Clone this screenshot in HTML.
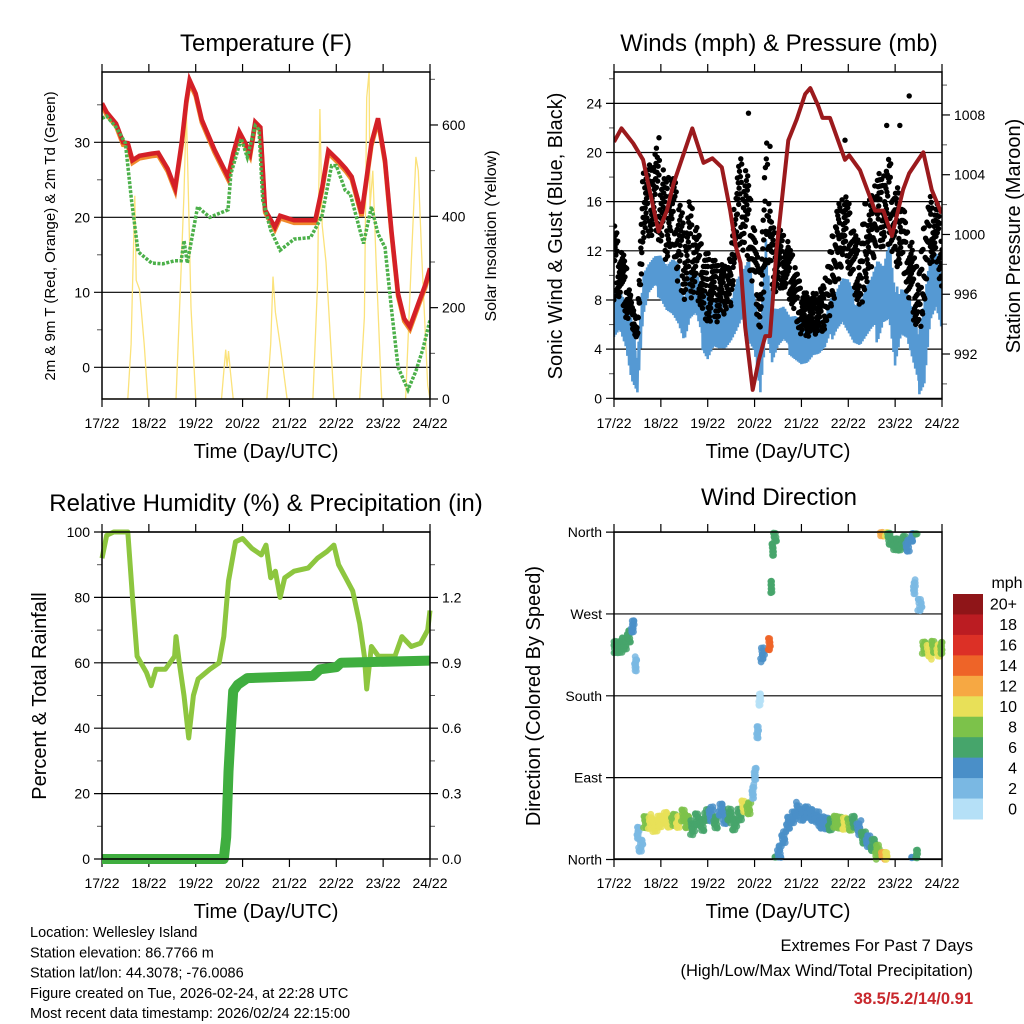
<!DOCTYPE html>
<html><head><meta charset="utf-8"><style>
html,body{margin:0;padding:0;background:#fff;}
svg{display:block;font-family:"Liberation Sans",Arial,sans-serif;}
</style></head><body>
<svg id="c" width="1024" height="1024" viewBox="0 0 1024 1024" xmlns="http://www.w3.org/2000/svg">
<g id="g"></g>
</svg>
<script>
// ---------- DATA ----------
const dayLabels=["17/22","18/22","19/22","20/22","21/22","22/22","23/22","24/22"];
// Temperature (F)
const tTime=[0,0.1,0.3,0.45,0.55,0.65,0.8,1.06,1.2,1.4,1.56,1.7,1.8,1.87,2.0,2.13,2.4,2.69,2.8,2.93,3.05,3.16,3.27,3.38,3.48,3.69,3.8,4.1,4.55,4.7,4.83,5.04,5.2,5.33,5.54,5.75,5.89,6.04,6.18,6.32,6.45,6.57,6.75,6.9,7.0];
const tVals=[35.2,34,32.5,30,29.9,27.6,28.2,28.5,28.6,26.5,23.9,30,35.5,38.3,36.5,33,29,25.4,28.5,31.4,30,28.5,32.7,32,21,18.7,20.2,19.6,19.6,24,28.9,27.6,26.5,25.4,20.5,29.9,33.2,27.6,18,9.8,6.5,5.4,8.5,11,13.2];
const tdTime=[0,0.1,0.3,0.5,0.63,0.77,1.06,1.3,1.55,1.69,1.75,1.82,2.04,2.3,2.69,2.75,2.97,3.1,3.27,3.35,3.43,3.6,3.8,4.1,4.45,4.69,4.9,5.0,5.19,5.3,5.58,5.75,5.89,6.04,6.18,6.32,6.53,6.7,6.85,7.0];
const tdVals=[33.2,33.5,32,29.9,22.3,15.4,13.9,13.8,14.2,14.2,16.9,13.9,21.4,20,21,25.8,30.5,28,32.2,31.7,22.3,18.3,15.6,17.1,17.3,20.1,26.9,26.9,23.6,23.1,16.5,21.4,17.8,16,7.6,0,-3,-0.5,2.5,6.3];
// Solar insolation (W/m2)
const solTime=[0,0.55,0.62,0.66,0.7,0.73,0.8,0.9,0.98,1.58,1.68,1.75,1.8,1.85,1.9,2.0,2.55,2.6,2.64,2.67,2.7,2.74,2.8,3.52,3.6,3.65,3.7,3.8,3.95,4.5,4.6,4.65,4.7,4.78,4.95,5.5,5.6,5.65,5.7,5.72,5.78,5.85,5.97,6.48,6.6,6.7,6.75,6.82,6.95,7.0];
const solVals=[0,0,120,280,445,260,240,120,0,0,260,450,635,420,200,0,0,60,108,70,105,60,0,0,120,268,190,120,0,0,250,635,380,300,0,0,180,660,716,420,500,300,0,0,300,530,500,320,30,0];
// Winds (mph), 3-hourly bands
const wStep=0.125;
const sustLo=[5,5.5,4,1,0,6,8,8.5,8,7,6.5,5.5,4,5.5,6,4,3,4,3.6,3.5,4,4.5,5.5,4.5,3.6,0,4.5,2,3.5,4,3.5,3,2.5,2.5,3,3,3.5,4.5,5.5,6,5,4,3.6,4,4.5,4.5,6,6,2,4.5,4,2,0.2,1,6,7,5];
const sustHi=[9,9,8,6.6,4,11,11.5,12,12,11,11.5,11,9,11.5,11,9.8,8.6,8,8.6,8,8.6,10.6,11,12,8.6,6,13.5,8.6,8,8,7,7,6.5,6.5,7,7,7,8.6,9,10,9.8,8.6,8.6,10,10.6,12,11,13,8.6,10,9.8,8,5.7,8.6,12,12,10];
const gustLo=[8,8.3,6.6,6,4.5,12.5,13,13.5,12.5,11,12.5,9,8,8,8.5,7,6,6.5,6,7,7.5,12.5,12,11,8,5,11,8.6,8.6,9,8,6.5,4.7,5,5,5.4,5.4,7,8.6,11,10.5,8.6,7,9,10.5,12.5,12,12.5,10,11,8.6,6.5,5,7,11,11,8.6];
const gustHi=[14.8,12.5,11.5,8,6,19,19,21,19.5,18,18.5,17,14.5,16.5,15,12.5,12,11.5,11,11,12,19,20,18,14,10,21.7,14,14,13.5,12.5,11,9,8.6,8.6,8.8,9.6,12.5,15.5,16.5,16.5,14,12.5,16.5,16.5,18.5,18,20,17,17.5,14,12.5,10,14.5,16.5,16,15.5];
const gustOutT=[0.96,2.87,3.33,4.93,5.82,6.1,6.3];
const gustOutV=[21.2,23.2,20.5,21,22.2,22.2,24.6];
// Pressure (mb)
const pTime=[0,0.16,0.41,0.62,0.77,0.95,1.13,1.27,1.67,1.91,2.1,2.3,2.48,2.6,2.7,2.8,2.96,3.09,3.23,3.33,3.47,3.72,3.9,4.08,4.19,4.36,4.45,4.61,4.93,5.02,5.25,5.57,5.75,5.93,6.17,6.3,6.45,6.6,6.78,6.99];
const pVals=[1006.2,1007.1,1006.1,1005,1002.8,1000.2,1001.6,1003.4,1007.1,1004.8,1005.1,1004.5,1001.6,999.2,998.1,993.8,989.6,991.6,993.2,993.2,999,1006.3,1007.7,1009.4,1009.8,1008.6,1007.8,1007.8,1005,1005.3,1004.3,1001.6,1001.6,999.9,1003,1004.1,1004.8,1005.5,1003,1001.4];
// Relative humidity (%)
const rhTime=[0,0.1,0.25,0.55,0.65,0.75,0.95,1.05,1.15,1.35,1.55,1.58,1.65,1.75,1.85,1.95,2.05,2.3,2.5,2.6,2.7,2.85,3.0,3.2,3.4,3.5,3.6,3.7,3.8,3.9,4.1,4.4,4.6,4.8,4.95,5.05,5.2,5.35,5.5,5.6,5.65,5.75,5.9,6.1,6.25,6.4,6.6,6.8,6.95,7.0];
const rhVals=[92,99,100,100,80,62,57,53,58,58,62,68,60,50,37,50,55,58,60,68,85,97,98,95,93,96,86,88,80,86,88,89,92,94,96,90,86,82,72,62,52,65,62,62,62,68,65,66,70,76];
// Total precipitation (in)
const prTime=[0,2.6,2.65,2.7,2.75,2.8,2.9,3.1,4.5,4.65,5.0,5.1,7.0];
const prVals=[0,0,0.1,0.4,0.6,0.77,0.8,0.83,0.84,0.87,0.88,0.9,0.91];
// Wind direction (deg) & speed (mph)
const dirTime=[0,0.1,0.2,0.3,0.38,0.45,0.5,0.55,0.65,0.75,0.85,0.95,1.05,1.15,1.25,1.35,1.45,1.55,1.65,1.75,1.85,1.95,2.05,2.15,2.25,2.35,2.45,2.55,2.65,2.75,2.85,2.95,3.0,3.05,3.1,3.15,3.3,3.35,3.38,3.42,3.5,3.6,3.7,3.8,3.9,4.0,4.1,4.2,4.3,4.4,4.5,4.6,4.7,4.8,4.9,5.0,5.1,5.2,5.3,5.4,5.5,5.6,5.7,5.8,5.85,5.95,6.05,6.15,6.25,6.35,6.4,6.45,6.5,6.6,6.7,6.8,6.9,6.98];
const dirVals=[232,235,238,245,255,215,30,15,40,42,38,42,45,40,45,42,48,40,35,45,38,48,50,42,55,45,48,40,50,58,55,75,95,140,175,225,238,300,340,355,10,25,40,45,55,50,52,48,45,42,40,38,40,42,40,38,40,35,25,20,15,8,3,2,352,345,348,350,345,355,300,5,280,232,228,235,230,232];
const dirSpd=[7,7,7,6,4,3,2,3,9,10,11,10,10,10,9,10,9,8,7,7,6,6,5,6,4,5,6,6,7,10,8,3,3,2,1,4,14,6,6,7,4,4,5,4,4,4,4,4,5,4,5,7,8,9,10,8,7,5,6,5,7,8,12,10,7,6,7,6,5,4,2,6,2,8,10,9,11,8];
const cbLabels=["20+","18","16","14","12","10","8","6","4","2","0"];
const cbColors=["#8f1518","#bb1c22","#dc3026","#ee6428","#f6a843","#e8e058","#7cc24a","#46a56b","#4a8fc8","#7ab8e3","#b5e0f7"];

// ---------- HELPERS ----------
const NS="http://www.w3.org/2000/svg";
const root=document.getElementById('g');
function mk(tag,attrs,parent){const e=document.createElementNS(NS,tag);for(const k in attrs)e.setAttribute(k,attrs[k]);(parent||root).appendChild(e);return e;}
function txt(s,x,y,size,anchor,parent,extra){const e=mk('text',Object.assign({x:x,y:y,'font-size':size,'text-anchor':anchor||'middle',fill:'#000'},extra||{}),parent);e.textContent=s;return e;}
function interp(ts,vs,t){if(t<=ts[0])return vs[0];for(let i=1;i<ts.length;i++){if(t<=ts[i]){const f=(t-ts[i-1])/(ts[i]-ts[i-1]);return vs[i-1]+f*(vs[i]-vs[i-1]);}}return vs[vs.length-1];}
function fr(x){return x-Math.floor(x);}

function panel(name,B){
  const g=mk('g',{});
  
  
  return g;
}
function xAxis(g,B,labelY,titleY){
  const xs=d=>B.x0+d*(B.x1-B.x0)/7;
  dayLabels.forEach((l,i)=>{
    const x=xs(i);
    mk('line',{x1:x,x2:x,y1:B.y1,y2:B.y1+8,stroke:'#000','stroke-width':1.2},g);
    mk('line',{x1:x,x2:x,y1:B.y0-8,y2:B.y0,stroke:'#000','stroke-width':1.2},g);
    const t=txt(l,x,labelY,14,'middle',g);
    
    
  });
  const tt=txt("Time (Day/UTC)",(B.x0+B.x1)/2,titleY,20,'middle',g);
  
  
  return xs;
}
function yTicks(g,B,vals,yf,labels,side,grid,minor){
  vals.forEach((v,i)=>{
    const y=yf(v);
    if(side==='left'){
      if(grid) mk('line',{x1:B.x0-8,x2:B.x1,y1:y,y2:y,stroke:'#000','stroke-width':1.2},g);
      else mk('line',{x1:B.x0-8,x2:B.x0,y1:y,y2:y,stroke:'#000','stroke-width':1.2},g);
      const t=txt(labels[i],B.x0-12,y+5,14,'end',g);
      
      
    } else {
      mk('line',{x1:B.x1,x2:B.x1+8,y1:y,y2:y,stroke:'#000','stroke-width':1.2},g);
      const t=txt(labels[i],B.x1+12,y+5,14,'start',g);
      
      
    }
  });
  (minor||[]).forEach(v=>{const y=yf(v);
    if(y<B.y0-0.5||y>B.y1+0.5)return;
    if(side==='left')mk('line',{x1:B.x0-5,x2:B.x0,y1:y,y2:y,stroke:'#555','stroke-width':1},g);
    else mk('line',{x1:B.x1,x2:B.x1+5,y1:y,y2:y,stroke:'#555','stroke-width':1},g);});
}
function frame(g,B){mk('rect',{x:B.x0,y:B.y0,width:B.x1-B.x0,height:B.y1-B.y0,fill:'none',stroke:'#000','stroke-width':1.5},g);}
function clip(id,B){const d=mk('clipPath',{id:id});mk('rect',{x:B.x0,y:B.y0,width:B.x1-B.x0,height:B.y1-B.y0},d);return 'url(#'+id+')';}
function poly(g,ts,vs,xs,yf,attrs,name){
  let d='';ts.forEach((t,i)=>{d+=(i?'L':'M')+xs(t).toFixed(1)+','+yf(vs[i]).toFixed(1);});
  const p=mk('path',Object.assign({d:d,fill:'none'},attrs),g);
  
  
  return p;
}
function rotTitle(g,s,x,y,size,name){
  const t=txt(s,x,y,size,'middle',g,{transform:'rotate(-90 '+x+' '+y+')'});
  
  
}
function title(g,s,x,y){const t=txt(s,x,y,24,'middle',g);}

// ---------- PANEL 1: TEMPERATURE ----------
(function(){
  const B={x0:102,x1:430,y0:72,y1:399};
  const g=panel('temperature-panel',B);
  const yT=v=>367.3-v*7.5, yS=w=>399-w*0.4567;
  const c=clip('c1',B);
  title(g,"Temperature (F)",266,51);
  yTicks(g,B,[0,10,20,30],yT,["0","10","20","30"],'left',true,[-5,5,15,25,35]);
  yTicks(g,B,[0,200,400,600],yS,["0","200","400","600"],'right',false,[100,300,500,700]);
  const xs=xAxis(g,B,428,458);
  const pg=mk('g',{'clip-path':c},g);
  poly(pg,solTime,solVals,xs,yS,{stroke:'#fbe27a','stroke-width':1.3},'solar-line');
  poly(pg,tTime,tVals.map(v=>v-0.35),xs,yT,{stroke:'#f08a2c','stroke-width':4.5},'temp-9m-line');
  poly(pg,tTime,tVals,xs,yT,{stroke:'#d42027','stroke-width':4.5},'temp-2m-line');
  poly(pg,tdTime,tdVals,xs,yT,{stroke:'#4cb04a','stroke-width':3.5,'stroke-dasharray':'3 1.5'},'dewpoint-line');
  frame(g,B);
  rotTitle(g,"2m & 9m T (Red, Orange) & 2m Td (Green)",55,236,15,'y-axis-title');
  rotTitle(g,"Solar Insolation (Yellow)",496,236,16,'y2-axis-title');
})();

// ---------- PANEL 2: WINDS ----------
(function(){
  const B={x0:614,x1:942,y0:72,y1:399};
  const g=panel('winds-panel',B);
  const yW=v=>398.3-v*12.29, yP=p=>354-(p-992)*14.94;
  const c=clip('c2',B);
  title(g,"Winds (mph) & Pressure (mb)",779,51);
  yTicks(g,B,[0,4,8,12,16,20,24],yW,["0","4","8","12","16","20","24"],'left',true,[2,6,10,14,18,22,26]);
  yTicks(g,B,[992,996,1000,1004,1008],yP,["992","996","1000","1004","1008"],'right',false,[990,994,998,1002,1006,1010]);
  const xs=xAxis(g,B,428,458);
  const pg=mk('g',{'clip-path':c},g);
  const n=sustLo.length, T=[];for(let i=0;i<n;i++)T.push(i*wStep);
  // sustained wind zigzag
  let d='';let k=0;
  for(let t=0;t<=7.0001;t+=wStep/14){const lo=interp(T,sustLo,t),hi=interp(T,sustHi,t);const f=(k%2?0.55:0)+fr(k*0.7548)*0.45;const v=lo+(hi-lo)*f;d+=(k?'L':'M')+xs(t).toFixed(1)+','+yW(v).toFixed(1);k++;}
  const sp=mk('path',{d:d,fill:'none',stroke:'#5599d3','stroke-width':2.6},pg);
  
  
  // gusts
  const gg=mk('g',{fill:'#000'},pg);
  
  
  k=0;
  for(let t=0;t<=7.0001;t+=wStep/22){const lo=interp(T,gustLo,t),hi=interp(T,gustHi,t);const f=fr(k*0.618034+0.3*fr(k*0.4142));const v=lo+(hi-lo)*f;
    const tj=t+(fr(k*0.3819)-0.5)*0.01;
    const cEl=mk('circle',{cx:xs(tj).toFixed(1),cy:yW(v).toFixed(1),r:2.7},gg);
    
    k++;}
  gustOutT.forEach((t,i)=>{const cEl=mk('circle',{cx:xs(t),cy:yW(gustOutV[i]),r:2.7},gg);
    
    });
  poly(pg,pTime,pVals,xs,yP,{stroke:'#9b1a1d','stroke-width':4,'stroke-linejoin':'round'},'pressure-line');
  frame(g,B);
  rotTitle(g,"Sonic Wind & Gust (Blue, Black)",562,236,20,'y-axis-title');
  rotTitle(g,"Station Pressure (Maroon)",1020,236,20,'y2-axis-title');
})();

// ---------- PANEL 3: RH & PRECIP ----------
(function(){
  const B={x0:102,x1:430,y0:532,y1:859};
  const g=panel('humidity-precip-panel',B);
  const yR=v=>859-v*3.27, yPr=p=>859-p*218;
  title(g,"Relative Humidity (%) & Precipitation (in)",266,511);
  yTicks(g,B,[0,20,40,60,80,100],yR,["0","20","40","60","80","100"],'left',true,[10,30,50,70,90]);
  yTicks(g,B,[0,0.3,0.6,0.9,1.2],yPr,["0.0","0.3","0.6","0.9","1.2"],'right',false,[0.15,0.45,0.75,1.05,1.35]);
  const xs=xAxis(g,B,888,918);
  const pg=mk('g',{},g);
  poly(pg,rhTime,rhVals,xs,yR,{stroke:'#8dc63f','stroke-width':5,'stroke-linejoin':'round'},'humidity-line');
  poly(pg,prTime,prVals,xs,yPr,{stroke:'#3fae3f','stroke-width':10,'stroke-linejoin':'round'},'precip-line');
  frame(g,B);
  rotTitle(g,"Percent & Total Rainfall",46,696,20,'y-axis-title');
})();

// ---------- PANEL 4: WIND DIRECTION ----------
(function(){
  const B={x0:614,x1:942,y0:532,y1:859};
  const g=panel('wind-direction-panel',B);
  const yD=d=>859.5-d*0.9094;
  title(g,"Wind Direction",779,505);
  yTicks(g,B,[0,90,180,270,360],yD,["North","East","South","West","North"],'left',true,[]);
  const xs=xAxis(g,B,888,918);
  const pg=mk('g',{'fill-opacity':0.85},g);
  let q=0;
  dirTime.forEach((t,j)=>{
    const col=cbColors[10-Math.min(10,Math.floor(dirSpd[j]/2))];
    const half=j<dirTime.length-1?Math.min(0.1,dirTime[j+1]-t):0.05;
    for(let m=0;m<12;m++){
      const tt=Math.min(7,Math.max(0,t+fr(q*0.618034)*half-half*0.25));
      let dv=dirVals[j]+(fr(q*0.7548+0.2)-0.5)*16;
      q++;
      if(dv<0)dv+=360; if(dv>360)dv-=360;
      const cEl=mk('circle',{cx:xs(tt).toFixed(1),cy:yD(dv).toFixed(1),r:3.4,fill:col},pg);
      
      
    }
  });
  frame(g,B);
  rotTitle(g,"Direction (Colored By Speed)",540,696,20,'y-axis-title');
  // colorbar
  const cb=mk('g',{},g);
  
  
  const u=txt("mph",1007,588,16,'middle',cb);
  
  
  const h=225/11;
  cbColors.forEach((col,i)=>{
    const r=mk('rect',{x:953,y:594+i*h,width:30,height:h+0.5,fill:col},cb);
    
    
    const t=txt(cbLabels[i],1017,594+i*h+h/2+5.5,16,'end',cb);
    
    
  });
})();

// ---------- FOOTER ----------
(function(){
  const g=mk('g',{});
  
  
  ["Location: Wellesley Island","Station elevation: 86.7766 m","Station lat/lon: 44.3078; -76.0086","Figure created on Tue, 2026-02-24, at 22:28 UTC","Most recent data timestamp: 2026/02/24 22:15:00"].forEach((s,i)=>{
    const t=txt(s,30,937+i*20.3,14.5,'start',g);
    
    
  });
  const e=mk('g',{});
  
  
  const a=txt("Extremes For Past 7 Days",973,951,16.5,'end',e);
  
  
  const b=txt("(High/Low/Max Wind/Total Precipitation)",973,976,16.5,'end',e);
  
  
  const v=txt("38.5/5.2/14/0.91",973,1004,16.5,'end',e,{fill:'#c8282d','font-weight':'bold'});
  
  
})();
</script>
</body></html>
